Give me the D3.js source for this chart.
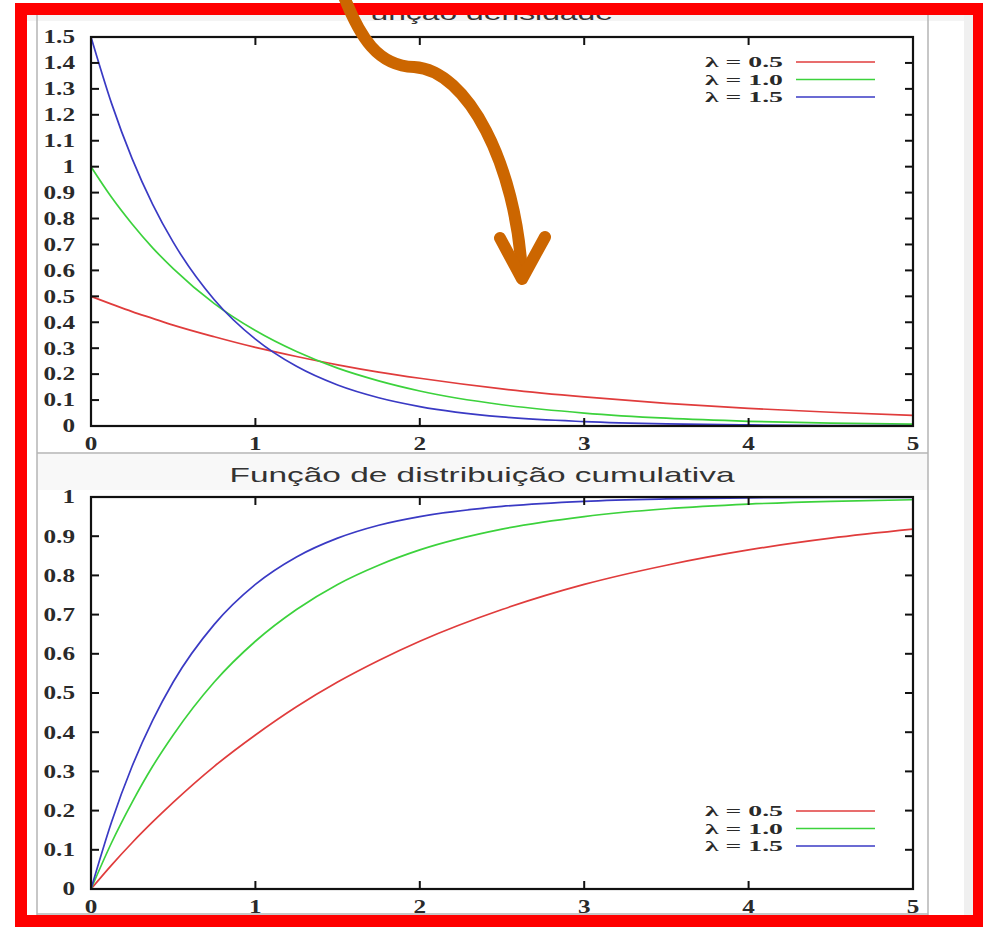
<!DOCTYPE html>
<html>
<head>
<meta charset="utf-8">
<script src="https://cdn.jsdelivr.net/npm/d3@7"></script>
<style>
  body { margin: 0; background: #fff; }
  svg { display: block; }
</style>
</head>
<body>
<div class="chart"></div>
<script>
const xs = [0, 0.125, 0.25, 0.375, 0.5, 0.75, 1, 1.25, 1.5, 1.75, 2, 2.5, 3, 3.5, 4, 4.5, 5];

// density values
const pdf05 = [0.500, 0.470, 0.441, 0.415, 0.389, 0.344, 0.303, 0.268, 0.236, 0.208, 0.184, 0.143, 0.112, 0.087, 0.068, 0.053, 0.041];
const pdf10 = [1.000, 0.882, 0.779, 0.687, 0.607, 0.472, 0.368, 0.287, 0.223, 0.174, 0.135, 0.082, 0.050, 0.030, 0.018, 0.011, 0.007];
const pdf15 = [1.500, 1.244, 1.031, 0.855, 0.709, 0.487, 0.335, 0.230, 0.158, 0.109, 0.075, 0.035, 0.017, 0.008, 0.004, 0.002, 0.001];

// cumulative values
const cdf05 = [0, 0.061, 0.118, 0.171, 0.221, 0.313, 0.393, 0.465, 0.528, 0.583, 0.632, 0.713, 0.777, 0.826, 0.865, 0.895, 0.918];
const cdf10 = [0, 0.118, 0.221, 0.313, 0.393, 0.528, 0.632, 0.713, 0.777, 0.826, 0.865, 0.918, 0.950, 0.970, 0.982, 0.989, 0.993];
const cdf15 = [0, 0.171, 0.313, 0.430, 0.528, 0.675, 0.777, 0.847, 0.895, 0.928, 0.950, 0.976, 0.989, 0.995, 0.998, 0.999, 0.999];

const seriesNames = ["λ = 0.5", "λ = 1.0", "λ = 1.5"];
const seriesColors = ["#e03c3c", "#3cd23c", "#3a3ac4"];
const xTicks = [0, 1, 2, 3, 4, 5];
const pdfTicks = d3.range(0, 16).map(d => d / 10);
const cdfTicks = d3.range(0, 11).map(d => d / 10);

const W = 983, H = 927;
const svg = d3.select(".chart").append("svg")
    .attr("width", W)
    .attr("height", H);

// window background bits
svg.append("rect").attr("x", 27).attr("y", 15).attr("width", 946).attr("height", 6).attr("fill", "#f4f4f4");
svg.append("rect").attr("x", 37).attr("y", 454).attr("width", 891).attr("height", 36).attr("fill", "#f8f8f8");
svg.append("rect").attr("x", 964).attr("y", 15).attr("width", 9).attr("height", 902).attr("fill", "#f0f0f0");
[[37, 15, 37, 917], [928, 15, 928, 917], [37, 453, 928, 453], [37, 914, 928, 914]].forEach(l => {
  svg.append("line")
    .attr("x1", l[0]).attr("y1", l[1]).attr("x2", l[2]).attr("y2", l[3])
    .attr("stroke", "#b4b4b4").attr("stroke-width", 1.5);
});

// stretched serif label, like the picture
function label(g, x, y, txt, anchor, sx, size) {
  return g.append("text")
    .attr("transform", "translate(" + x + "," + y + ") scale(" + sx + ",1)")
    .attr("text-anchor", anchor)
    .attr("dy", "0.35em")
    .style("font-family", "'Liberation Serif', 'DejaVu Serif', serif")
    .style("font-weight", "bold")
    .style("font-size", (size || 18) + "px")
    .style("fill", "#2a2a2a")
    .text(txt);
}

function panel(opt) {
  const x = d3.scaleLinear().domain([0, 5]).range([91, 913]);
  const y = d3.scaleLinear().domain([0, opt.ymax]).range([opt.bottom, opt.top]);
  const g = svg.append("g");

  g.append("rect")
    .attr("x", x(0)).attr("y", y(opt.ymax))
    .attr("width", x(5) - x(0)).attr("height", y(0) - y(opt.ymax))
    .attr("fill", "#fff");

  // curves
  const line = d3.line()
      .x((d, i) => x(xs[i]))
      .y(d => y(d))
      .curve(d3.curveMonotoneX);
  opt.series.forEach((s, i) => {
    g.append("path")
      .attr("d", line(s))
      .attr("fill", "none")
      .attr("stroke", seriesColors[i])
      .attr("stroke-width", 1.7);
  });

  // inward ticks on all four sides
  const tk = 8;
  opt.yTicks.forEach(t => {
    if (t === 0 || t === opt.ymax) return;
    g.append("line").attr("x1", x(0)).attr("x2", x(0) + tk).attr("y1", y(t)).attr("y2", y(t))
      .attr("stroke", "#111").attr("stroke-width", 2);
    g.append("line").attr("x1", x(5)).attr("x2", x(5) - tk).attr("y1", y(t)).attr("y2", y(t))
      .attr("stroke", "#111").attr("stroke-width", 2);
  });
  xTicks.forEach(t => {
    if (t === 0 || t === 5) return;
    g.append("line").attr("x1", x(t)).attr("x2", x(t)).attr("y1", y(0)).attr("y2", y(0) - tk)
      .attr("stroke", "#111").attr("stroke-width", 2);
    g.append("line").attr("x1", x(t)).attr("x2", x(t)).attr("y1", y(opt.ymax)).attr("y2", y(opt.ymax) + tk)
      .attr("stroke", "#111").attr("stroke-width", 2);
  });

  g.append("rect")
    .attr("x", x(0)).attr("y", y(opt.ymax))
    .attr("width", x(5) - x(0)).attr("height", y(0) - y(opt.ymax))
    .attr("fill", "none").attr("stroke", "#111").attr("stroke-width", 2.2);

  // tick labels
  const fmt = d => d3.format(".1f")(d).replace(/\.0$/, "");
  opt.yTicks.forEach(t => label(g, 75, y(t), fmt(t), "end", 1.4));
  xTicks.forEach(t => label(g, x(t), y(0) + 18, String(t), "middle", 1.4));

  // legend
  seriesNames.forEach((n, i) => {
    const ly = opt.legendY + i * 17.5;
    label(g, 783, ly, n, "end", 1.85, 15);
    g.append("line")
      .attr("x1", 796).attr("x2", 875).attr("y1", ly).attr("y2", ly)
      .attr("stroke", seriesColors[i]).attr("stroke-width", 1.6);
  });

  // title
  g.append("text")
    .attr("x", 482).attr("y", opt.titleY)
    .attr("text-anchor", "middle")
    .attr("textLength", opt.titleLen)
    .attr("lengthAdjust", "spacingAndGlyphs")
    .style("font-family", "'Liberation Sans', Arial, sans-serif")
    .style("font-size", "21px")
    .style("fill", "#333")
    .text(opt.title);
}

panel({ top: 37, bottom: 426, ymax: 1.5, yTicks: pdfTicks,
        series: [pdf05, pdf10, pdf15], legendY: 62,
        title: "Função densidade", titleY: 20, titleLen: 262 });
panel({ top: 497, bottom: 889, ymax: 1, yTicks: cdfTicks,
        series: [cdf05, cdf10, cdf15], legendY: 811,
        title: "Função de distribuição cumulativa", titleY: 482, titleLen: 505 });

// red frame
svg.append("rect")
  .attr("x", 21).attr("y", 9)
  .attr("width", 958).attr("height", 912)
  .attr("fill", "none")
  .attr("stroke", "#ff0000")
  .attr("stroke-width", 12);

// orange arrow
const arrow = svg.append("g")
  .attr("fill", "none")
  .attr("stroke", "#cc6600")
  .attr("stroke-width", 12)
  .attr("stroke-linecap", "round")
  .attr("stroke-linejoin", "round");
arrow.append("path")
  .attr("d", "M343,-6 C360,38 378,66 414,67 C468,70 516,165 522,274");
arrow.append("path")
  .attr("d", "M500,238 L522,279 L545,237");
</script>
</body>
</html>
